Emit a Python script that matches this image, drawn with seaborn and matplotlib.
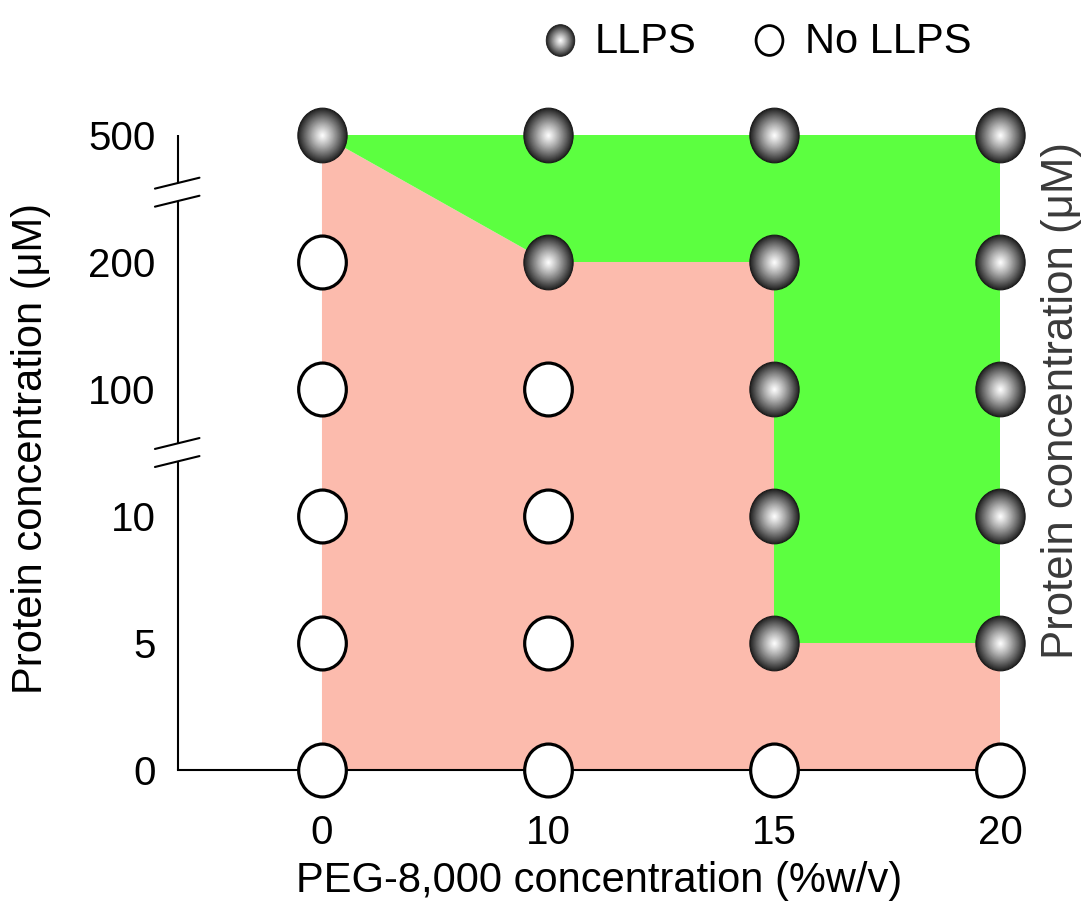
import numpy as np
import pandas as pd
import matplotlib
matplotlib.use("Agg")
import matplotlib.pyplot as plt
import seaborn as sns
from matplotlib.path import Path

# ---- data -------------------------------------------------------------
peg_labels = ["0", "10", "15", "20"]                 # PEG-8,000 (%w/v)
protein_labels = ["0", "5", "10", "100", "200", "500"]  # protein (uM)

# phase outcome per protein level, one value per PEG level (1 = LLPS)
llps_0 = [0, 0, 0, 0]
llps_5 = [0, 0, 1, 1]
llps_10 = [0, 0, 1, 1]
llps_100 = [0, 0, 1, 1]
llps_200 = [0, 1, 1, 1]
llps_500 = [1, 1, 1, 1]

phase_rows = [llps_0, llps_5, llps_10, llps_100, llps_200, llps_500]

records = []
for i, row in enumerate(phase_rows):
    for j, v in enumerate(row):
        records.append({"peg": j, "protein": i,
                        "phase": "LLPS" if v else "No LLPS"})
df = pd.DataFrame(records)

# ---- style --------------------------------------------------------------
sns.set_theme(style="white")
plt.rcParams["font.family"] = ["Liberation Sans", "DejaVu Sans"]
plt.rcParams["text.color"] = "black"
plt.rcParams["axes.labelcolor"] = "black"
plt.rcParams["xtick.color"] = "black"
plt.rcParams["ytick.color"] = "black"

FS = 30
TICK_FS = 29
PINK = "#FCBBAD"
GREEN = "#5CFF40"

fig = plt.figure(figsize=(10.9, 9.17), dpi=100)
ax = fig.add_axes([178 / 1090, 147 / 917, 862 / 1090, 661 / 917])

x_left = -0.637
ax.set_xlim(x_left, x_left + 3.814)
ax.set_ylim(0, 5.205)

# ---- phase regions ----------------------------------------------------
n_peg = len(peg_labels)
top = len(protein_labels) - 1
thresh = [min(i for i, row in enumerate(phase_rows) if row[j]) for j in range(n_peg)]
boundary = [(0, thresh[0]), (1, thresh[1])]
for j in range(2, n_peg):
    boundary.append((j, thresh[j - 1]))
    boundary.append((j, thresh[j]))

green_poly = [(0, top), (n_peg - 1, top)] + boundary[::-1]
pink_poly = boundary + [(n_peg - 1, 0), (0, 0)]
ax.fill(*zip(*pink_poly), color=PINK, lw=0, zorder=1)
ax.fill(*zip(*green_poly), color=GREEN, lw=0, zorder=1)

# ---- markers ------------------------------------------------------------
uc = Path.unit_circle()
oval = Path(uc.vertices * np.array([1.0, 1.11]), uc.codes)

no_df = df[df["phase"] == "No LLPS"]
yes_df = df[df["phase"] == "LLPS"]

SPHERE_S = 1550
sns.scatterplot(data=no_df, x="peg", y="protein", marker=oval, s=1450,
                color="white", edgecolor="black", linewidth=2.3,
                ax=ax, zorder=5, clip_on=False, legend=False)
sns.scatterplot(data=yes_df, x="peg", y="protein", marker=oval, s=SPHERE_S,
                color="#222222", edgecolor="#1a1a1a", linewidth=0.8,
                ax=ax, zorder=5, clip_on=False, legend=False)

shade_r = np.linspace(0.96, 0.03, 28)


def shade(r):
    g = 1.0 - 0.86 * r ** 1.15
    return (g, g, g)


def shaded_sphere(axis, xs, ys, size, z0, **kw):
    for k, r in enumerate(shade_r):
        axis.scatter(xs, ys, s=size * r ** 2, marker=oval, color=shade(r),
                     linewidths=0, zorder=z0 + k * 0.01, clip_on=False, **kw)


shaded_sphere(ax, yes_df["peg"], yes_df["protein"], SPHERE_S, 6)

# ---- axes ---------------------------------------------------------------
ax.set_xticks(range(n_peg), peg_labels)
ax.set_yticks(range(len(protein_labels)), protein_labels)
ax.tick_params(axis="x", length=0, pad=32, labelsize=TICK_FS)
ax.tick_params(axis="y", direction="in", length=19.5, width=1.5,
               pad=16, labelsize=TICK_FS)
ax.set_xlabel("")
ax.set_ylabel("")

for side in ["top", "right", "left"]:
    ax.spines[side].set_visible(False)
ax.spines["bottom"].set_color("black")
ax.spines["bottom"].set_linewidth(1.5)
ax.spines["bottom"].set_bounds(x_left, n_peg - 1)

# broken left axis
breaks = [2.5, 4.55]
gap = 0.071
seg_edges = [0] + [b for c in breaks for b in (c - gap, c + gap)] + [top]
for a, b in zip(seg_edges[0::2], seg_edges[1::2]):
    ax.plot([x_left, x_left], [a, b], color="black", lw=1.5,
            solid_capstyle="butt", clip_on=False, zorder=4)
for c in breaks:
    for off in (-gap, gap):
        ax.plot([x_left - 0.102, x_left + 0.095],
                [c + off - 0.043, c + off + 0.043],
                color="black", lw=1.5, clip_on=False, zorder=4)

# ---- labels -------------------------------------------------------------
fig.text(599 / 1090, 1 - 881 / 917, "PEG-8,000 concentration (%w/v)",
         ha="center", va="center", fontsize=FS)
fig.text(31 / 1090, 1 - 449 / 917, "Protein concentration (\u03bcM)",
         rotation=90, ha="center", va="center", fontsize=FS)
fig.text(1061 / 1090, 1 - 401 / 917, "Protein concentration (\u03bcM)",
         rotation=90, ha="center", va="center", fontsize=31.5,
         color="#3a3a3a")

# ---- legend -------------------------------------------------------------
leg_y = 1 - 40 / 917
ax.scatter([560 / 1090], [leg_y], s=520, marker=oval, color="#222222",
           edgecolor="#1a1a1a", linewidths=0.6, transform=fig.transFigure,
           clip_on=False, zorder=10)
shaded_sphere(ax, [560 / 1090], [leg_y], 520, 10.1, transform=fig.transFigure)
ax.scatter([769 / 1090], [leg_y], s=460, marker=oval, color="white",
           edgecolor="black", linewidths=2, transform=fig.transFigure,
           clip_on=False, zorder=10)
fig.text(595 / 1090, 1 - 53 / 917, "LLPS", ha="left", va="baseline", fontsize=FS)
fig.text(805 / 1090, 1 - 53 / 917, "No LLPS", ha="left", va="baseline", fontsize=FS)

fig.savefig("out.png", dpi=100)
